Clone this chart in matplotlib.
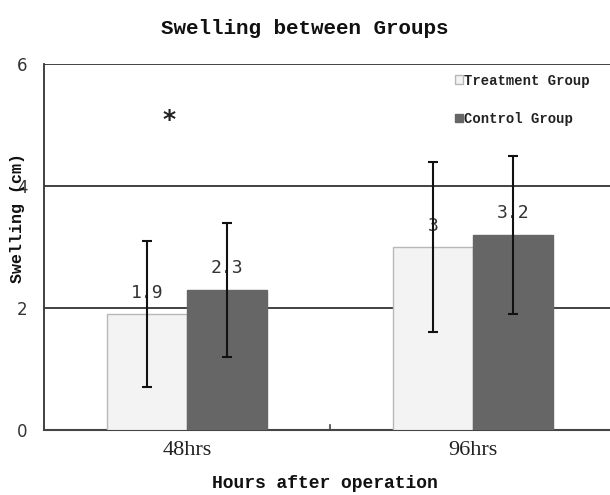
import matplotlib
matplotlib.use("Agg")
import matplotlib.pyplot as plt
from matplotlib.patches import Patch
import numpy as np

categories = ["48hrs", "96hrs"]
treatment = [1.9, 3.0]
control = [2.3, 3.2]
treatment_err = [1.2, 1.4]
control_err = [1.1, 1.3]
treatment_labels = ["1.9", "3"]
control_labels = ["2.3", "3.2"]
yticks = [0, 2, 4, 6]

fig = plt.figure(figsize=(6.1, 4.95), dpi=100)
ax = fig.add_axes([44/610, 1-430/495, (616-44)/610, 366/495])

x = np.arange(len(categories))
w = 0.28
light = "#f3f3f3"
dark = "#666666"

ax.bar(x - w/2, treatment, w, color=light, edgecolor="#b8b8b8", linewidth=1.0, zorder=3)
ax.bar(x + w/2, control, w, color=dark, edgecolor=dark, linewidth=1.0, zorder=3)
ax.errorbar(x - w/2, treatment, yerr=treatment_err, fmt="none", ecolor="#111111",
            elinewidth=1.5, capsize=3.5, capthick=1.5, zorder=5)
ax.errorbar(x + w/2, control, yerr=control_err, fmt="none", ecolor="#111111",
            elinewidth=1.5, capsize=3.5, capthick=1.5, zorder=5)

for xi, v, lab in zip(x - w/2, treatment, treatment_labels):
    ax.text(xi, v + 0.35, lab, ha="center", va="center", fontsize=13,
            family="DejaVu Sans Mono", color="#333333", zorder=4)
for xi, v, lab in zip(x + w/2, control, control_labels):
    ax.text(xi, v + 0.35, lab, ha="center", va="center", fontsize=13,
            family="DejaVu Sans Mono", color="#333333", zorder=4)

ax.text(-0.063, 5.08, "*", ha="center", va="center", fontsize=18,
        family="DejaVu Sans", fontweight="bold", color="#222222")

ax.set_xlim(-0.5, 1.5)
ax.set_ylim(0, 6)
ax.set_yticks(yticks)
ax.set_yticklabels([str(t) for t in yticks], family="DejaVu Sans", fontsize=12, color="#333333")
ax.tick_params(axis="y", length=0, pad=12)
ax.set_xticks(x)
ax.set_xticklabels(categories, family="Liberation Serif", fontsize=16, color="#222222")
ax.tick_params(axis="x", length=0, pad=8)
ax.plot([0.5, 0.5], [0, 0.08], color="#444444", lw=1.2, zorder=4, clip_on=False)

for yv in [2, 4, 6]:
    ax.axhline(yv, color="#333333", lw=1.3, zorder=1)

for s in ["top", "right"]:
    ax.spines[s].set_visible(False)
ax.spines["left"].set_color("#333333")
ax.spines["left"].set_linewidth(1.3)
ax.spines["bottom"].set_color("#444444")
ax.spines["bottom"].set_linewidth(1.5)

fig.text(305/610, 1-28/495, "Swelling between Groups", ha="center", va="center",
         fontsize=15, family="Liberation Mono", fontweight="bold", color="#111111")
fig.text(325/610, 1-484/495, "Hours after operation", ha="center", va="center",
         fontsize=13, family="Liberation Mono", fontweight="bold", color="#111111")
fig.text(18/610, 1-218/495, "Swelling (cm)", ha="center", va="center", rotation=90,
         fontsize=12, family="Liberation Mono", fontweight="bold", color="#111111")

handles = [Patch(facecolor=light, edgecolor="#b8b8b8", label="Treatment Group"),
           Patch(facecolor=dark, edgecolor=dark, label="Control Group")]
leg = fig.legend(handles=handles, loc="upper left", bbox_to_anchor=(442/610, 1-61/495),
                 frameon=False, handlelength=0.6, handleheight=0.6, handletextpad=0.1,
                 labelspacing=1.75, prop={"family": "Liberation Mono", "size": 10, "weight": "bold"})
for t in leg.get_texts():
    t.set_color("#222222")

fig.savefig("out.png", dpi=100)
